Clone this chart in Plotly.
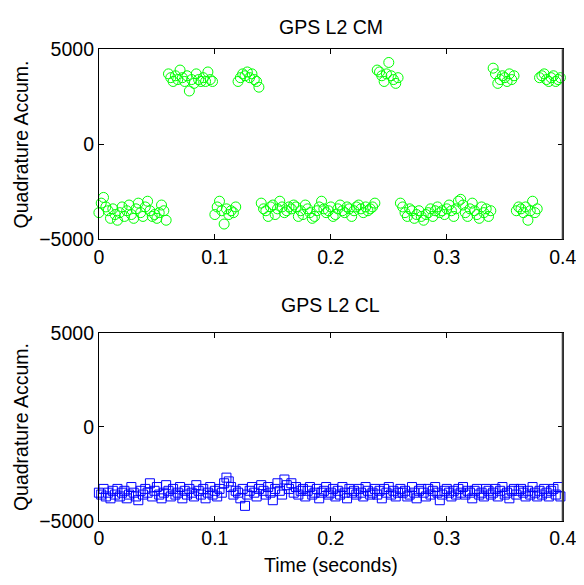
import plotly.graph_objects as go

# Time grid (seconds), 2 ms spacing
time_s = [round(i * 0.002, 3) for i in range(200)]

# GPS L2 CM quadrature accumulation
cm_values = [
    # 0.000 - 0.058 (low)
    -3600, -3100, -2800, -3300, -3500, -3900, -3400, -3700, -4000, -3600,
    -3300, -3800, -3500, -3200, -3700, -3900, -3400, -3100, -3600, -3800,
    -3300, -3000, -3500, -3800, -3700, -3900, -3600, -3200, -3500, -4000,
    # 0.060 - 0.098 (high)
    3700, 3500, 3300, 3600, 3400, 3900, 3500, 3300, 3600, 2800,
    3400, 3200, 3700, 3400, 3300, 3500, 3300, 3800, 3400, 3300,
    # 0.100 - 0.118 (low)
    -3700, -3300, -3000, -3500, -4200, -3400, -3700, -3500, -3600, -3300,
    # 0.120 - 0.138 (high)
    3300, 3500, 3700, 3600, 3800, 3500, 3700, 3400, 3300, 3000,
    # 0.140 - 0.238 (low)
    -3100, -3400, -3500, -3800, -3300, -3200, -3700, -3400, -3000, -3300,
    -3600, -3500, -3300, -3400, -3200, -3300, -3800, -3500, -3700, -3200,
    -3400, -3600, -3900, -3800, -3500, -3300, -3000, -3400, -3600, -3500,
    -3300, -3800, -3700, -3400, -3200, -3500, -3600, -3300, -3400, -3800,
    -3500, -3300, -3200, -3400, -3600, -3300, -3500, -3400, -3300, -3100,
    # 0.240 - 0.258 (high)
    3900, 3800, 3600, 3300, 3700, 4300, 3600, 3400, 3200, 3500,
    # 0.260 - 0.338 (low)
    -3100, -3300, -3600, -3800, -3400, -3500, -3900, -3700, -3500, -3800,
    -4000, -3700, -3600, -3400, -3800, -3500, -3300, -3600, -3500, -3700,
    -3400, -3200, -3500, -3800, -3400, -3000, -2900, -3200, -3600, -3800,
    -3400, -3100, -3500, -3700, -3900, -3300, -3600, -3400, -3800, -3500,
    # 0.340 - 0.358 (high)
    4000, 3700, 3200, 3400, 3600, 3500, 3300, 3700, 3400, 3600,
    # 0.360 - 0.378 (low)
    -3500, -3300, -3400, -3600, -3300, -4000, -3500, -3000, -3600, -3400,
    # 0.380 - 0.398 (high)
    3500, 3600, 3700, 3400, 3300, 3500, 3600, 3300, 3400, 3500,
]

# GPS L2 CL quadrature accumulation
cl_values = [
    -3500, -3600, -3300, -3700, -3500, -3800, -3400, -3600, -3300, -3700,
    -3500, -3400, -3800, -3600, -3200, -3500, -3700, -3900, -3400, -3600,
    -3300, -3500, -3000, -3700, -3400, -3200, -3600, -3800, -3500, -3100,
    -3400, -3700, -3300, -3600, -3500, -3200, -3800, -3400, -3600, -3300,
    -3500, -3700, -3100, -3400, -3600, -3300, -3800, -3500, -3200, -3600,
    -3400, -3700, -3300, -3500, -3000, -2700, -2900, -3200, -3600, -3400,
    -3500, -3800, -3300, -4200, -3600, -3400, -3200, -3500, -3700, -3300,
    -3100, -3400, -3600, -3200, -3500, -3900, -3300, -3000, -3400, -3600,
    -2800, -3100, -3300, -3000, -3500, -3200, -3600, -3400, -3300, -3700,
    -3400, -3200, -3600, -3500, -3300, -3800, -3500, -3400, -3200, -3600,
    -3500, -3300, -3700, -3400, -3600, -3200, -3500, -3800, -3300, -3500,
    -3400, -3600, -3300, -3500, -3700, -3200, -3400, -3600, -3500, -3300,
    -3600, -3400, -3800, -3300, -3500, -3200, -3600, -3400, -3700, -3500,
    -3300, -3500, -3400, -3700, -3600, -3200, -3500, -3800, -3400, -3300,
    -3500, -3700, -3300, -3600, -3400, -3200, -3500, -3900, -3600, -3400,
    -3300, -3500, -3700, -3400, -3600, -3300, -3500, -3200, -3600, -3400,
    -3500, -3800, -3400, -3300, -3600, -3500, -3700, -3300, -3400, -3600,
    -3500, -3300, -3700, -3400, -3200, -3600, -3500, -3800, -3400, -3300,
    -3600, -3400, -3300, -3500, -3700, -3400, -3600, -3200, -3500, -3700,
    -3400, -3600, -3300, -3500, -3700, -3400, -3300, -3600, -3200, -3700,
]

x_ticks = [0, 0.1, 0.2, 0.3, 0.4]
x_ticktext = ["0", "0.1", "0.2", "0.3", "0.4"]
y_ticks = [-5000, 0, 5000]
y_ticktext = ["\u22125000", "0", "5000"]

titles = ["GPS L2 CM", "GPS L2 CL"]
y_title = "Quadrature Accum."
x_title = "Time (seconds)"

FONT = "Liberation Sans, Arial, Helvetica, sans-serif"
W, H = 584, 585
# observed mapping from figure px to photographed px: win = a * fig + b
AX, BX = 0.972, 11.7
AY, BY = 0.967, 17.7
# target positions in the photographed picture
X0, X1 = 98, 564
TOP = (48, 239)
BOT = (333, 522)


def px_x(v):
    return ((v - BX) / AX) / W


def px_y(v, lo=None):
    f = (v - BY) / AY
    if lo is not None:
        f = max(f, lo)
    return 1 - f / H


fig = go.Figure()
fig.add_trace(go.Scatter(
    x=time_s, y=cm_values, mode="markers", xaxis="x", yaxis="y",
    marker=dict(symbol="circle-open", size=10, color="#00ff00",
                line=dict(width=1, color="#00ff00")),
    cliponaxis=False, showlegend=False,
))
fig.add_trace(go.Scatter(
    x=time_s, y=cl_values, mode="markers", xaxis="x2", yaxis="y2",
    marker=dict(symbol="square-open", size=9, color="#0000ff",
                line=dict(width=1, color="#0000ff")),
    cliponaxis=False, showlegend=False,
))

axis_common = dict(
    showgrid=False, zeroline=False, showline=True, linecolor="black",
    linewidth=1, mirror="ticks", ticks="inside", ticklen=5,
    tickcolor="black", ticklabeloverflow="allow",
    tickfont=dict(family=FONT, size=19.5, color="black"),
)

xdom = [px_x(X0), px_x(X1)]
fig.update_layout(
    width=W, height=H,
    margin=dict(l=0, r=0, t=0, b=0),
    paper_bgcolor="white", plot_bgcolor="white",
    xaxis=dict(domain=xdom, range=[0, 0.4], tickvals=x_ticks,
               ticktext=x_ticktext, anchor="y", **axis_common),
    yaxis=dict(domain=[px_y(TOP[1]), px_y(TOP[0])], range=[-5000, 5000],
               tickvals=y_ticks, ticktext=y_ticktext, anchor="x",
               **axis_common),
    xaxis2=dict(domain=xdom, range=[0, 0.4], tickvals=x_ticks,
                ticktext=x_ticktext, anchor="y2", **axis_common),
    yaxis2=dict(domain=[px_y(BOT[1]), px_y(BOT[0])], range=[-5000, 5000],
                tickvals=y_ticks, ticktext=y_ticktext, anchor="x2",
                **axis_common),
)

ann_font = dict(family=FONT, size=19.5, color="black")
cx = px_x((X0 + X1) / 2)
fig.add_annotation(x=cx, y=px_y(20, lo=8), xref="paper", yref="paper",
                   text=titles[0], showarrow=False, font=ann_font,
                   xanchor="center", yanchor="middle")
fig.add_annotation(x=cx, y=px_y(305), xref="paper", yref="paper",
                   text=titles[1], showarrow=False, font=ann_font,
                   xanchor="center", yanchor="middle")
fig.add_annotation(x=cx, y=px_y(566), xref="paper", yref="paper",
                   text=x_title, showarrow=False, font=ann_font,
                   xanchor="center", yanchor="middle")
for (t, b) in (TOP, BOT):
    fig.add_annotation(x=px_x(20), y=px_y((t + b) / 2), xref="paper",
                       yref="paper", text=y_title, showarrow=False,
                       font=ann_font, textangle=-90,
                       xanchor="center", yanchor="middle")

# darker right edge of each box, as in the reference
for yref in ("y domain", "y2 domain"):
    xr = "x domain" if yref == "y domain" else "x2 domain"
    fig.add_shape(type="line", xref=xr, yref=yref, x0=1, x1=1, y0=0, y1=1,
                  line=dict(color="#404040", width=2))

fig.write_html("out.html")
